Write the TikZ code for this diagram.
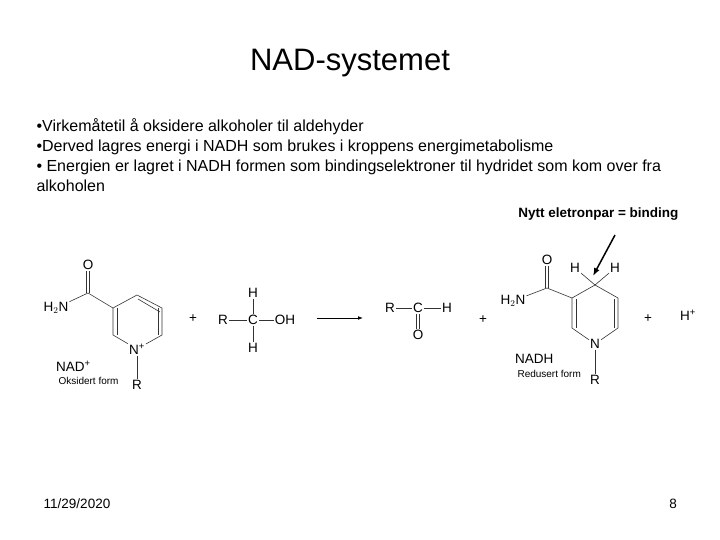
\documentclass[tikz,border=0pt]{standalone}
\usepackage{fontspec}
\setmainfont{Liberation Sans}
\usetikzlibrary{arrows.meta}
\tikzset{atom/.style={inner sep=1pt,font=\fontsize{13.5}{13.5}\selectfont},
	bond/.style={line width=0.6pt,black!80},
	small/.style={font=\fontsize{10}{10}\selectfont}}
\begin{document}
\begin{tikzpicture}[x=1pt,y=-1pt]
	\useasboundingbox (0,0) rectangle (720,540);
	\node at (350,63) {\fontsize{31}{31}\selectfont NAD-systemet};
	\node[anchor=west,align=left,font=\fontsize{16}{20}\selectfont] at (33,155) {%
		•Virkemåtetil å oksidere alkoholer til aldehyder\\
		•Derved lagres energi i NADH som brukes i kroppens energimetabolisme\\
		• Energien er lagret i NADH formen som bindingselektroner til hydridet som kom over fra\\
		alkoholen};
	\node[anchor=east,font=\bfseries\fontsize{13.5}{14}\selectfont] (lbl) at (682,214) {Nytt eletronpar = binding};
	
	% NAD+
	\coordinate (a3) at (113,308);
	\coordinate (a4) at (137,295);
	\coordinate (a5) at (162,308);
	\coordinate (a6) at (162,335);
	\node[atom] (aN) at (137,349) {N\textsuperscript{+}};
	\coordinate (a2) at (113,335);
	\coordinate (ac) at (88,293);
	\node[atom] (aO) at (88,265) {O};
	\node[atom] (aNH) at (56,308) {H$_2$N};
	\node[atom] (aR) at (137,385) {R};
	\draw[bond] (a3) -- (a4) -- (a5) -- (a6) -- (aN) -- (a2) -- (a3);
	\draw[bond] ([shift={(4,0)}]a3) -- ([shift={(4,0)}]a2);
	\draw[bond] ([shift={(1,4)}]a4) -- ([shift={(-2,4)}]a5);
	\draw[bond] ([shift={(-4,0)}]a5) -- ([shift={(-4,0)}]a6);
	\draw[bond] (a3) -- (ac) -- (aNH);
	\draw[bond] ([xshift=-1.5]ac) -- ([xshift=-1.5]aO.south);
	\draw[bond] ([xshift=1.5]ac) -- ([xshift=1.5]aO.south);
	\draw[bond] (aN) -- (aR);
	\node[atom,anchor=west] at (55,366) {NAD\textsuperscript{+}};
	\node[small,anchor=west] at (55,381) {Oksidert form};
	
	\node[atom] at (193,319) {+};
	
	% alkohol
	\node[atom] (bR) at (223,320) {R};
	\node[atom] (bC) at (253,320) {C};
	\node[atom] (bOH) at (285,320) {OH};
	\node[atom] (bH1) at (253,293) {H};
	\node[atom] (bH2) at (253,348) {H};
	\draw[bond] (bR) -- (bC) -- (bOH) (bH1) -- (bC) -- (bH2);
	
	\coordinate (p1) at (317,318);
	\coordinate (p2) at (363,318);
	\draw[line width=0.8pt,-{Latex[length=5pt]}] (p1) -- (p2);
	
	% aldehyd
	\node[atom] (cR) at (390,308) {R};
	\node[atom] (cC) at (418,308) {C};
	\node[atom] (cH) at (447,308) {H};
	\node[atom] (cO) at (418,335) {O};
	\draw[bond] (cR) -- (cC) -- (cH);
	\draw[bond] ([xshift=-1.5]cC.south) -- ([xshift=-1.5]cO.north);
	\draw[bond] ([xshift=1.5]cC.south) -- ([xshift=1.5]cO.north);
	
	\node[atom] at (483,320) {+};
	
	% NADH
	\coordinate (d3) at (572,298);
	\coordinate (d4) at (595,285);
	\coordinate (d5) at (618,298);
	\coordinate (d6) at (618,328);
	\node[atom] (dN) at (595,344) {N};
	\coordinate (d2) at (572,328);
	\coordinate (dc) at (547,288);
	\node[atom] (dO) at (547,260) {O};
	\node[atom] (dNH) at (513,301) {H$_2$N};
	\node[atom] (dH1) at (575,268) {H};
	\node[atom] (dH2) at (615,268) {H};
	\node[atom] (dR) at (595,380) {R};
	\draw[bond] (d3) -- (d4) -- (d5) -- (d6) -- (dN) -- (d2) -- (d3);
	\draw[bond] ([shift={(4,1)}]d3) -- ([shift={(4,0)}]d2);
	\draw[bond] ([shift={(-4,1)}]d5) -- ([shift={(-4,0)}]d6);
	\draw[bond] (d3) -- (dc) -- (dNH);
	\draw[bond] ([xshift=-1.5]dc) -- ([xshift=-1.5]dO.south);
	\draw[bond] ([xshift=1.5]dc) -- ([xshift=1.5]dO.south);
	\draw[bond] (dH1) -- (d4) -- (dH2);
	\draw[bond] (dN) -- (dR);
	\node[atom,anchor=west] at (514,359) {NADH};
	\node[small,anchor=west] at (514,374) {Redusert form};
	
	\node[atom] at (648,319) {+};
	\node[atom] at (688,315) {H\textsuperscript{+}};
	
	\coordinate (q1) at (615,235);
	\coordinate (q2) at (593,276);
	\draw[line width=1.5pt,-{Latex[length=8pt]}] (q1) -- (q2);
	
	\node at (77,504) {\fontsize{13.5}{14}\selectfont 11/29/2020};
	\node at (673,504) {\fontsize{13.5}{14}\selectfont 8};
\end{tikzpicture}
\end{document}
